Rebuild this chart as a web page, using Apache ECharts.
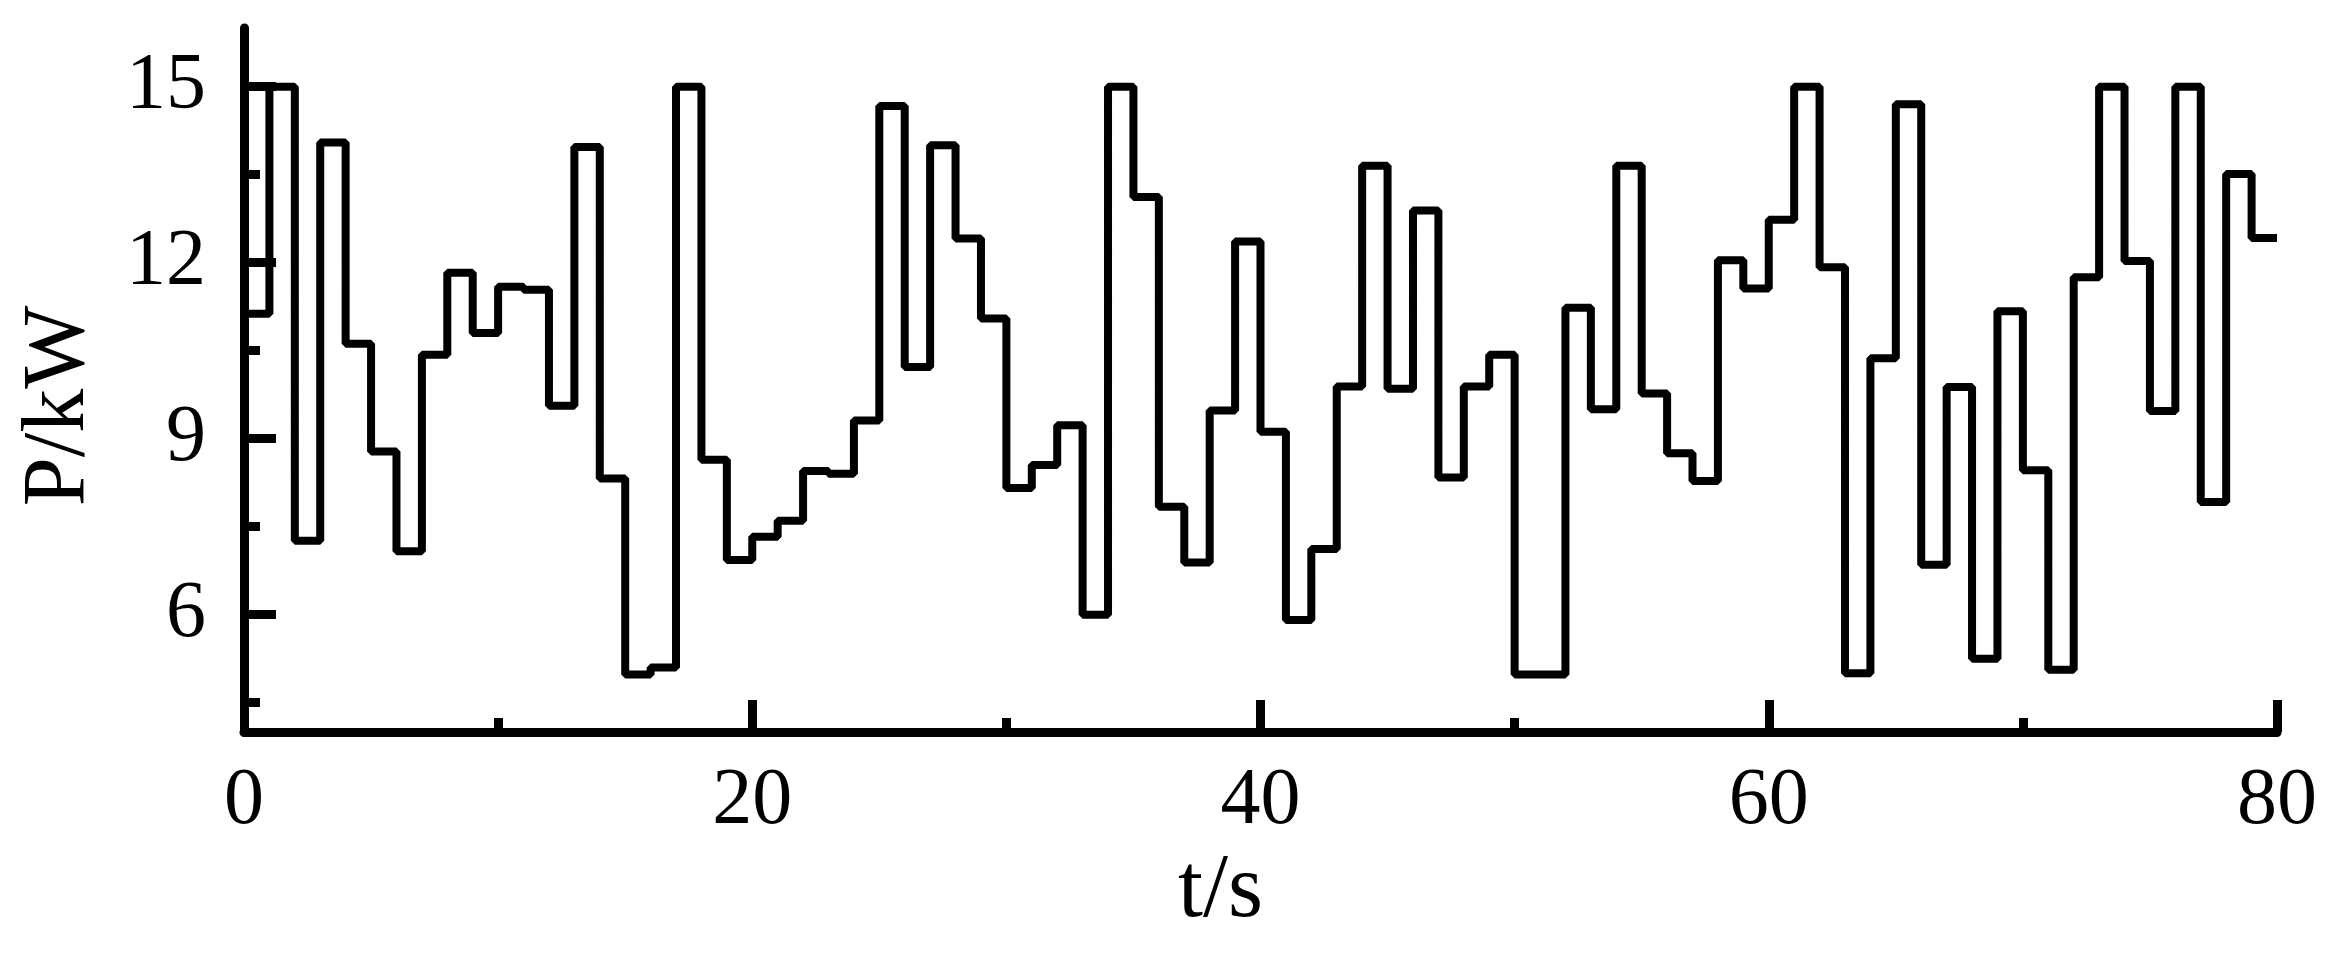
<!DOCTYPE html>
<html>
<head>
<meta charset="utf-8">
<script src="https://cdn.jsdelivr.net/npm/echarts@6/dist/echarts.min.js"></script>
<style>
  html, body { margin: 0; padding: 0; background: #fff; }
  #chart { width: 2346px; height: 953px; }
</style>
</head>
<body>
<div id="chart"></div>
<script>
// power held for one second each, t = 0..79 s
const power = [
  11.13, 15.0, 7.26, 14.05, 10.62, 8.78, 7.08, 10.43, 11.83, 10.8,
  11.59, 11.54, 9.56, 13.97, 8.32, 4.98, 5.1, 15.0, 8.64, 6.93,
  7.33, 7.6, 8.45, 8.4, 9.31, 14.67, 10.22, 14.0, 12.41, 11.05,
  8.16, 8.55, 9.23, 6.0, 15.0, 13.12, 7.84, 6.89, 9.48, 12.36,
  9.12, 5.91, 7.12, 9.89, 13.65, 9.85, 12.89, 8.34, 9.89, 10.43,
  4.98, 4.98, 11.23, 9.5, 13.65, 9.77, 8.75, 8.28, 12.04, 11.56,
  12.73, 15.0, 11.92, 5.0, 10.37, 14.7, 6.85, 9.88, 5.25, 11.17,
  8.46, 5.06, 11.75, 15.0, 12.03, 9.47, 15.0, 7.92, 13.51, 12.42
]
// short stub at the start of the record
const startT = [0, 1]
const startP = [15.0, 15.0]

const yMajor = [6, 9, 12, 15]
const yMinor = [4.5, 7.5, 10.5, 13.5]

const FONT = '"Liberation Serif", "DejaVu Serif", serif'
const INK = '#000'

const stairs = power.map((v, i) => [i, v])
stairs.push([power.length, power[power.length - 1]])
const stub = startT.map((t, i) => [t, startP[i]])

const chart = echarts.init(document.getElementById('chart'), null, { renderer: 'canvas' })

const yBase = {
  type: 'value', min: 4, max: 16, position: 'left',
  splitLine: { show: false },
}

chart.setOption({
  animation: false,
  textStyle: { fontFamily: FONT },
  grid: { left: 244, right: 69, top: 28, bottom: 221, containLabel: false },
  xAxis: {
    type: 'value', min: 0, max: 80, interval: 20,
    name: 't/s', nameLocation: 'middle', nameGap: 114,
    nameTextStyle: { color: INK, fontSize: 90, fontFamily: FONT, padding: [0, 80, 0, 0] },
    axisLine: { lineStyle: { color: INK, width: 9 } },
    axisTick: { inside: true, length: 32, lineStyle: { color: INK, width: 9 } },
    minorTick: { show: true, splitNumber: 2, length: 14, lineStyle: { color: INK, width: 9 } },
    axisLabel: { color: INK, fontSize: 80, fontFamily: FONT, margin: 30 },
    splitLine: { show: false },
  },
  yAxis: [
    {
      ...yBase,
      name: 'P/kW', nameLocation: 'middle', nameGap: 140,
      nameTextStyle: { color: INK, fontSize: 88, fontFamily: FONT, padding: [0, 52, 0, 0] },
      axisLine: { show: true, lineStyle: { color: INK, width: 9 } },
      axisTick: { inside: true, length: 32, customValues: yMajor, lineStyle: { color: INK, width: 9 } },
      axisLabel: { color: INK, fontSize: 80, fontFamily: FONT, margin: 38, customValues: yMajor },
    },
    {
      ...yBase,
      axisLine: { show: false },
      axisTick: { inside: true, length: 16, customValues: yMinor, lineStyle: { color: INK, width: 9 } },
      axisLabel: { show: false },
    },
  ],
  series: [
    {
      name: 'P', type: 'line', step: 'end', data: stairs,
      showSymbol: false, symbol: 'none',
      lineStyle: { color: INK, width: 8 },
    },
    {
      name: 'P0', type: 'line', data: stub,
      showSymbol: false, symbol: 'none',
      lineStyle: { color: INK, width: 8 },
    },
  ],
})
</script>
</body>
</html>
